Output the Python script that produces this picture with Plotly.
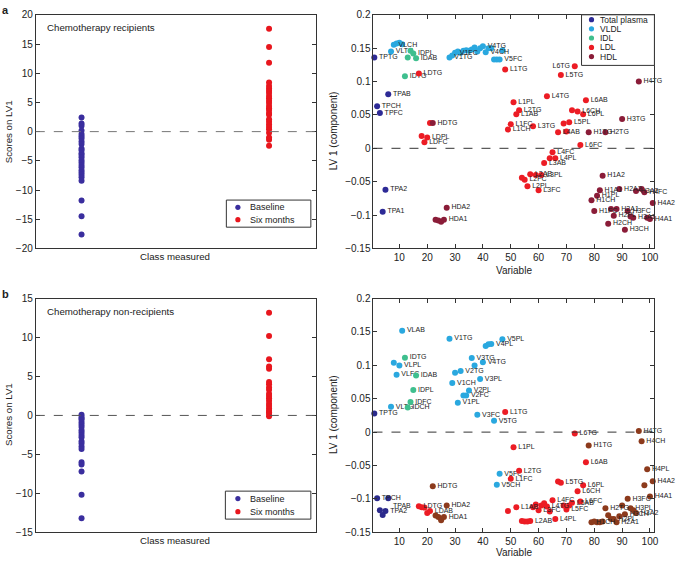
import plotly.graph_objects as go

W, H = 677, 563
FONT = "Liberation Sans, Arial, Helvetica, sans-serif"

# ---------------- left panels: scores on LV1 ----------------
class_labels = ["Baseline", "Six months"]
scores_recip_baseline = [2.4, 1.4, 1.0, 0.2, -0.4, -0.8, -1.2, -1.7, -2.1, -2.9, -3.2, -3.7, -4.0,
                         -4.4, -4.9, -5.3, -5.7, -6.1, -6.6, -7.0, -7.4, -7.8, -8.4, -11.8, -14.5, -17.6]
scores_recip_six = [-2.4, -1.4, -1.0, -0.2, 0.4, 0.8, 1.2, 1.7, 2.1, 2.9, 3.2, 3.7, 4.0,
                    4.4, 4.9, 5.3, 5.7, 6.1, 6.6, 7.0, 7.4, 7.8, 8.4, 11.8, 14.5, 17.6]
scores_nonrecip_baseline = [0.1, -0.2, -0.4, -0.6, -0.9, -1.2, -1.5, -1.9, -2.2, -2.5, -2.8, -3.3,
                            -3.6, -4.0, -4.3, -6.0, -6.3, -7.2, -10.2, -13.2]
scores_nonrecip_six = [-0.1, 0.2, 0.4, 0.6, 0.9, 1.2, 1.5, 1.9, 2.2, 2.5, 2.8, 3.3,
                       3.6, 4.0, 4.3, 6.0, 6.3, 7.2, 10.2, 13.2]

# ---------------- right panels: LV1 loadings ----------------
main_vars = ["TPTG", "TPCH", "TPFC", "TPA1", "TPA2", "TPAB",
             "VLTG", "VLCH", "VLFC", "VLPL", "VLAB",
             "IDTG", "IDCH", "IDFC", "IDPL", "IDAB",
             "LDTG", "LDCH", "LDFC", "LDPL", "LDAB",
             "HDTG", "HDCH", "HDFC", "HDPL", "HDA1", "HDA2"]
vldl_sub = [f"V{i}{p}" for i in range(1, 6) for p in ["TG", "CH", "FC", "PL"]]
ldl_sub = [f"L{i}{p}" for i in range(1, 7) for p in ["TG", "CH", "FC", "PL", "AB"]]
hdl_sub = [f"H{i}{p}" for i in range(1, 5) for p in ["TG", "CH", "FC", "PL", "A1", "A2"]]
variables = main_vars + vldl_sub + ldl_sub + hdl_sub
variable_index = list(range(1, len(variables) + 1))

lv1_recip = [
    0.136, 0.063, 0.053, -0.095, -0.062, 0.081,
    0.145, 0.155, 0.157, 0.158, 0.156,
    0.108, 0.136, 0.146, 0.142, 0.135,
    0.112, 0.0185, 0.009, 0.016, 0.038,
    0.038, -0.107, -0.108, -0.110, -0.107, -0.089,
    # V1..V5
    0.136, 0.139, 0.143, 0.145, 0.143, 0.146, 0.147, 0.146, 0.148, 0.151,
    0.145, 0.150, 0.153, 0.144, 0.150, 0.150, 0.133, 0.133, 0.133, 0.147,
    # L1..L6
    0.118, 0.028, 0.036, 0.069, 0.051,
    0.057, -0.044, -0.047, -0.057, -0.039,
    0.033, -0.040, -0.063, -0.040, -0.022,
    0.078, -0.015, -0.006, -0.015, 0.024,
    0.110, 0.037, 0.025, 0.039, 0.057,
    0.123, 0.055, 0.005, 0.051, 0.072,
    # H1..H4
    0.024, -0.078, -0.094, -0.071, -0.063, -0.041,
    0.024, -0.113, -0.091, -0.101, -0.091, -0.061,
    0.044, -0.122, -0.094, -0.102, -0.104, -0.064,
    0.100, -0.061, -0.066, -0.104, -0.106, -0.082,
]
lv1_nonrecip = [
    0.028, -0.099, -0.117, -0.124, -0.118, -0.099,
    0.038, 0.104, 0.086, 0.100, 0.152,
    0.1115, 0.037, 0.045, 0.063, 0.085,
    -0.111, -0.1125, -0.113, -0.121, -0.118,
    -0.081, -0.125, -0.127, -0.132, -0.127, -0.110,
    # V1..V5
    0.140, 0.0736, 0.089, 0.044, 0.0916, 0.055, 0.055, 0.0624, 0.111, 0.100,
    0.026, 0.0795, 0.1047, 0.129, 0.1315, 0.132, 0.017, -0.079, -0.0624, 0.139,
    # L1..L6
    0.030, -0.118, -0.070, -0.0226, -0.1125,
    -0.058, -0.133, -0.134, -0.134, -0.133,
    -0.1125, -0.1086, -0.117, -0.110, -0.1067,
    -0.1115, -0.119, -0.102, -0.130, -0.074,
    -0.0757, -0.110, -0.116, -0.110, -0.106,
    -0.002, -0.0887, -0.104, -0.0795, -0.045,
    # H1..H4
    -0.020, -0.135, -0.134, -0.135, -0.135, -0.134,
    -0.114, -0.1246, -0.130, -0.130, -0.135, -0.126,
    -0.110, -0.123, -0.100, -0.114, -0.117, -0.121,
    0.0017, -0.0138, -0.0795, -0.0557, -0.0965, -0.0736,
]

labels_recip = {
    "TPTG", "TPAB", "TPCH", "TPFC", "TPA2", "TPA1", "VLCH", "VLTG", "IDPL", "IDAB", "IDTG",
    "LDTG", "HDTG", "LDPL", "LDFC", "HDA2", "HDA1", "V1TG", "V1FC", "V4TG", "V4CH", "V5FC",
    "L1TG", "L6TG", "L5TG", "H4TG", "L4TG", "L6AB", "L1PL", "L2TG", "L1AB", "L6CH", "L6PL",
    "H3TG", "L1FC", "L1CH", "L3TG", "L5PL", "L4AB", "H1TG", "H2TG", "L6FC", "L4FC", "L4PL",
    "L3AB", "L2AB", "L3PL", "L2FC", "L2PL", "L3FC", "H1A2", "H1A1", "H1PL", "H1CH", "H2A2",
    "H3A2", "H4FC", "H4A2", "H1FC", "H2A1", "H3FC", "H2PL", "H3A1", "H4A1", "H2CH", "H3CH",
}
labels_nonrecip = {
    "TPTG", "TPCH", "TPAB", "TPA2", "VLAB", "VLPL", "VLFC", "VLTG", "IDTG", "IDAB", "IDPL",
    "IDFC", "IDCH", "LDTG", "LDAB", "HDTG", "HDA2", "HDA1", "V1TG", "V1CH", "V1PL", "V2TG",
    "V2PL", "V2FC", "V3TG", "V4TG", "V3PL", "V4PL", "V5PL", "V3FC", "V5TG", "L1TG", "L6TG",
    "H4TG", "H4CH", "L1PL", "H1TG", "L6AB", "H4PL", "L2TG", "V5FC", "L1FC", "H4A2", "L5TG",
    "L6PL", "V5CH", "L6CH", "H4A1", "L4FC", "L6FC", "L1AB", "L4TG", "L3FC", "L5FC", "H3FC",
    "H2TG", "H3PL", "H3A2", "L2AB", "L4PL", "H2PL", "H2A1", "H1CH", "H3CH", "L5AB",
}

group_names = ["Total plasma", "VLDL", "IDL", "LDL", "HDL"]
group_key = {"T": "Total plasma", "V": "VLDL", "I": "IDL", "L": "LDL", "H": "HDL"}
colors_recip = {"Total plasma": "#2d2a96", "VLDL": "#2aa8df", "IDL": "#3fbf8e",
                "LDL": "#ec1c24", "HDL": "#8a1c38"}
colors_nonrecip = {"Total plasma": "#2b2a8c", "VLDL": "#2aa8df", "IDL": "#3fbf8e",
                   "LDL": "#ec1c24", "HDL": "#8c3a1c"}
BASE_COL = "#3a2e9e"
SIX_COL = "#e8161d"


def P(x, y):
    return x / W, 1 - y / H


fig = go.Figure()

# left panels
for (xa, ya, base, six) in [("x", "y", scores_recip_baseline, scores_recip_six),
                            ("x3", "y3", scores_nonrecip_baseline, scores_nonrecip_six)]:
    fig.add_trace(go.Scatter(x=[1] * len(base), y=base, mode="markers", xaxis=xa, yaxis=ya,
                             marker=dict(color=BASE_COL, size=6), showlegend=False,
                             name=class_labels[0]))
    fig.add_trace(go.Scatter(x=[2] * len(six), y=six, mode="markers", xaxis=xa, yaxis=ya,
                             marker=dict(color=SIX_COL, size=6), showlegend=False,
                             name=class_labels[1]))

# right panels
recip_override = {"L6TG": "middle left"}
nonrecip_override = {"TPAB": "bottom right"}
for (xa, ya, vals, labset, cols, overrides) in [
        ("x2", "y2", lv1_recip, labels_recip, colors_recip, recip_override),
        ("x4", "y4", lv1_nonrecip, labels_nonrecip, colors_nonrecip, nonrecip_override)]:
    for g in group_names:
        idx = [i for i, v in enumerate(variables) if group_key[v[0]] == g]
        fig.add_trace(go.Scatter(
            x=[variable_index[i] for i in idx],
            y=[vals[i] for i in idx],
            text=[variables[i] if variables[i] in labset else "" for i in idx],
            textposition=[overrides.get(variables[i], "middle right") for i in idx],
            mode="markers+text", xaxis=xa, yaxis=ya, name=g, showlegend=False,
            marker=dict(color=cols[g], size=6),
            textfont=dict(family=FONT, size=7, color="#222222"),
            cliponaxis=False))

axis_common = dict(showline=True, linecolor="#333333", linewidth=1, mirror="ticks",
                   showgrid=False, zeroline=False, ticks="inside", ticklen=4,
                   tickcolor="#333333", tickfont=dict(family=FONT, size=10, color="#222222"))

lx = [36 / W, 318 / W]
rx = [375.7 / W, 658.3 / W]
ty = [1 - 247.7 / H, 1 - 9 / H]
by = [1 - 537.7 / H, 1 - 299 / H]

left_x = dict(axis_common, ticks="", showticklabels=False, mirror=True, range=[0.756, 2.251])
right_x = dict(axis_common, range=[0.7, 101.6], tickvals=list(range(10, 101, 10)))

fig.update_layout(
    width=W, height=H, margin=dict(l=0, r=0, t=0, b=0),
    paper_bgcolor="white", plot_bgcolor="white",
    font=dict(family=FONT, size=10, color="#222222"),
    showlegend=False,
    xaxis=dict(left_x, domain=lx, anchor="y"),
    yaxis=dict(axis_common, domain=ty, anchor="x", range=[-20, 20], dtick=5),
    xaxis2=dict(right_x, domain=rx, anchor="y2"),
    yaxis2=dict(axis_common, domain=ty, anchor="x2", range=[-0.15, 0.2], dtick=0.05),
    xaxis3=dict(left_x, domain=lx, anchor="y3"),
    yaxis3=dict(axis_common, domain=by, anchor="x3", range=[-15, 15], dtick=5),
    xaxis4=dict(right_x, domain=rx, anchor="y4"),
    yaxis4=dict(axis_common, domain=by, anchor="x4", range=[-0.15, 0.2], dtick=0.05),
)

shapes = []
# dashed zero lines
for xr, yr, col in [("x domain", "y", "#777777"), ("x2 domain", "y2", "#333333"),
                    ("x3 domain", "y3", "#555555"), ("x4 domain", "y4", "#333333")]:
    shapes.append(dict(type="line", xref=xr, yref=yr, x0=0, x1=1, y0=0, y1=0,
                       line=dict(color=col, width=1, dash="dash")))

annotations = []


def add_text(x, y, text, size=10, xanchor="center", yanchor="middle", angle=0, bold=False):
    px, py = P(x, y)
    annotations.append(dict(xref="paper", yref="paper", x=px, y=py, text=f"<b>{text}</b>" if bold else text,
                            showarrow=False, xanchor=xanchor, yanchor=yanchor, textangle=angle,
                            font=dict(family=FONT, size=size, color="#222222")))


def legend_box(x0, y0, x1, y1, items, size=8.5):
    a0, b0 = P(x0, y0)
    a1, b1 = P(x1, y1)
    shapes.append(dict(type="rect", xref="paper", yref="paper", x0=a0, x1=a1, y0=b1, y1=b0,
                       fillcolor="white", line=dict(color="#333333", width=1), layer="above"))
    for (mx, my, tx, label, col) in items:
        cx, cy = P(mx, my)
        shapes.append(dict(type="circle", xref="paper", yref="paper", xsizemode="pixel",
                           ysizemode="pixel", xanchor=cx, yanchor=cy, x0=-2.6, x1=2.6,
                           y0=-2.6, y1=2.6, fillcolor=col, line=dict(width=0), layer="above"))
        add_text(tx, my, label, size=size, xanchor="left")


legend_box(227.7, 198.3, 312.7, 226.0,
           [(239.3, 205.7, 249, class_labels[0], BASE_COL), (239.3, 218.3, 249, class_labels[1], SIX_COL)],
           size=9)
legend_box(226.7, 495.7, 312.7, 524.3,
           [(239.3, 503.3, 249, class_labels[0], BASE_COL), (239.3, 516.7, 249, class_labels[1], SIX_COL)],
           size=9)
legend_rows = [14.0, 23.3, 32.7, 42.3, 51.7]
legend_box(585, 9, 658.3, 60.7,
           [(595, legend_rows[k], 602, g, colors_recip[g]) for k, g in enumerate(group_names)],
           size=8.5)

# titles and labels
add_text(45, 21.7, "Chemotherapy recipients", size=9.7, xanchor="left")
add_text(45, 311.7, "Chemotherapy non-recipients", size=9.7, xanchor="left")
add_text(176, 256, "Class measured", size=9.7)
add_text(176, 546, "Class measured", size=9.7)
add_text(516.7, 270, "Variable", size=10)
add_text(516.7, 558, "Variable", size=10)
add_text(8, 128, "Scores on LV1", size=9.7, angle=-90)
add_text(8, 417, "Scores on LV1", size=9.7, angle=-90)
add_text(335, 128, "LV 1 (component)", size=10, angle=-90)
add_text(335, 418, "LV 1 (component)", size=10, angle=-90)
add_text(0, 4, "a", size=11, xanchor="left", bold=True)
add_text(0, 294, "b", size=11, xanchor="left", bold=True)

fig.update_layout(shapes=shapes, annotations=annotations)
fig.write_html("out.html", config={"displayModeBar": False},
               post_script="document.body.style.margin='0px';document.body.style.overflow='hidden';")
